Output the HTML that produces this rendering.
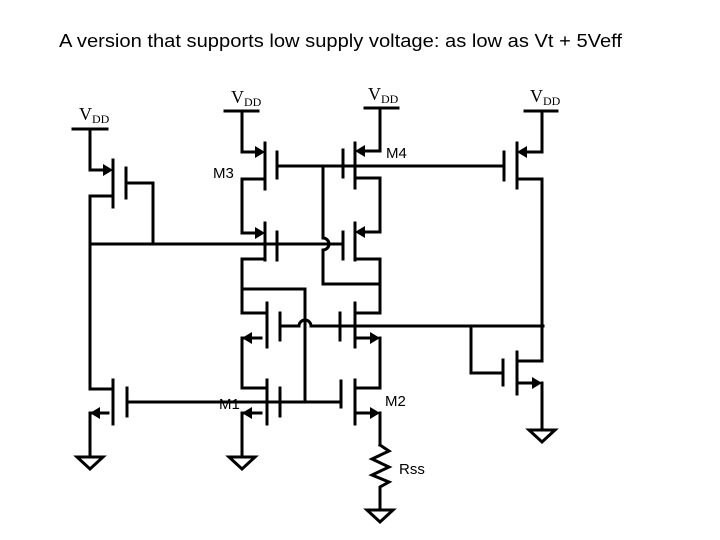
<!DOCTYPE html>
<html><head><meta charset="utf-8"><style>
html,body{margin:0;padding:0;background:#fff;}
svg{display:block}
text{font-family:"Liberation Sans",Arial,sans-serif;fill:#000}
.s{font-family:"Liberation Serif",serif}
</style></head><body>
<svg width="720" height="540" viewBox="0 0 720 540" xmlns="http://www.w3.org/2000/svg">
<text x="59" y="47" font-size="18" textLength="563" lengthAdjust="spacingAndGlyphs">A version that supports low supply voltage: as low as Vt + 5Veff</text>

<!-- VDD labels -->
<text class="s" x="79" y="120" font-size="18">V<tspan font-size="12" dy="3">DD</tspan></text>
<text class="s" x="231" y="103" font-size="18">V<tspan font-size="12" dy="3">DD</tspan></text>
<text class="s" x="368" y="100" font-size="18">V<tspan font-size="12" dy="3">DD</tspan></text>
<text class="s" x="530" y="102" font-size="18">V<tspan font-size="12" dy="3">DD</tspan></text>

<text x="213" y="178" font-size="15">M3</text>
<text x="386" y="158" font-size="15">M4</text>
<text x="219" y="409" font-size="15">M1</text>
<text x="385" y="406" font-size="15">M2</text>
<text x="399" y="474" font-size="15">Rss</text>

<g stroke="#000" stroke-width="3" fill="none" stroke-linecap="square">
<path d="M73 129H107 M90 129V170H108 M113 160V207 M126 168V198 M126 183H153V244 M113 196H90V389H113"/>
<path d="M113 380V424 M127 388V416 M108 413H90V455 M127 402H341"/>
<path d="M225 111H258 M242 111V152H259 M265 143V189 M277 152V178 M265 179H242V233H259 M265 223V260 M277 232V260 M265 259H242V289H305V402"/>
<path d="M277 166H504 M323 166V238 M323 250V284H380"/>
<path d="M323 238A6 6 0 0 1 323 250"/>
<path d="M90 244H343"/>
<path d="M365 108H398 M380 108V151H361 M355 143V188 M343 150V177 M355 178H380V232H361 M355 223V260 M343 232V259 M355 259H380V313H355"/>
<path d="M242 289V313H267 M267 303V347 M280 313V340 M261 338H242V388H267 M267 380V424 M280 388V416 M261 413H242V455"/>
<path d="M355 303V347 M340 313V340 M355 338H374 M380 338V388H355 M355 380V424 M341 381V407 M355 413H374 M380 413V445"/>
<path d="M280 326H299 M311 326H543"/>
<path d="M299 326A6 6 0 0 1 311 326"/>
<path d="M380 445L389 451L372 459L389 467L372 475L389 482L380 487V508"/>
<path d="M525 111H557 M542 111V152H523 M517 143V188 M504 152V180 M517 179H542V361H517 M517 352V394 M503 360V385 M503 373H471V326 M517 383H536 M542 383V428"/>
</g>
<g fill="#000">
<polygon points="113,170 103,164 103,176"/>
<polygon points="265,152 255,146 255,158"/>
<polygon points="265,233 255,227 255,239"/>
<polygon points="355,151 365,145 365,157"/>
<polygon points="355,232 365,226 365,238"/>
<polygon points="517,152 527,146 527,158"/>
<polygon points="90,413 100,407 100,419"/>
<polygon points="242,338 252,332 252,344"/>
<polygon points="242,413 252,407 252,419"/>
<polygon points="380,338 370,332 370,344"/>
<polygon points="380,413 370,407 370,419"/>
<polygon points="542,383 532,377 532,389"/>
</g>
<g stroke="#000" stroke-width="3" fill="none" stroke-linejoin="miter">
<polygon points="77,457 103,457 90,469"/>
<polygon points="229,457 255,457 242,469"/>
<polygon points="367,510 393,510 380,522"/>
<polygon points="529,430 555,430 542,442"/>
</g>
</svg>
</body></html>
